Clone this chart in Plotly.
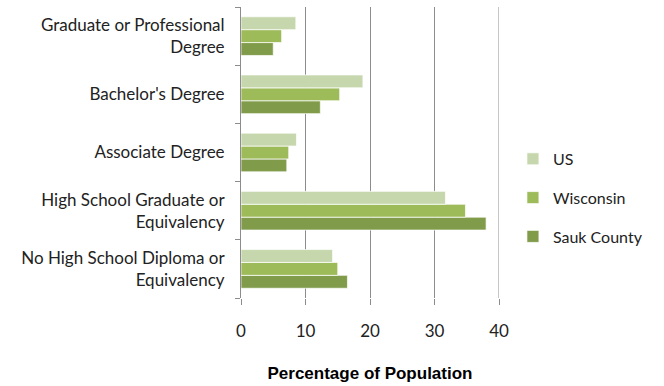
import plotly.graph_objects as go

# Educational attainment categories (bottom to top as drawn)
categories = [
    "No High School Diploma or<br>Equivalency",
    "High School Graduate or<br>Equivalency",
    "Associate Degree",
    "Bachelor's Degree",
    "Graduate or Professional<br>Degree",
]

# Percentage of population by area
us = [14.2, 31.7, 8.6, 18.9, 8.5]
wisconsin = [15.0, 34.8, 7.4, 15.3, 6.3]
sauk_county = [16.5, 38.0, 7.1, 12.3, 5.0]

x_ticks = [0, 10, 20, 30, 40]

# (name, values, colour, legend rank)
series = [
    ("Sauk County", sauk_county, "#809B4A", 3),
    ("Wisconsin", wisconsin, "#9DBB59", 2),
    ("US", us, "#C6D7AD", 1),
]

label_font = dict(family="Lato", size=17, color="#222222")
grid = "#8C8C8C"

fig = go.Figure()
for name, vals, color, rank in series:
    fig.add_trace(go.Bar(
        y=categories, x=vals, name=name, orientation="h",
        legendgroup=name, legendrank=rank,
        marker=dict(color=color, line=dict(color="rgba(255,255,255,0.7)", width=1)),
    ))

# gridline at the last tick, which sits on the plot's right edge
fig.add_shape(
    type="line", xref="x", yref="paper",
    x0=x_ticks[-1], x1=x_ticks[-1], y0=0, y1=1,
    line=dict(color=grid, width=1), layer="below",
)

fig.update_layout(
    width=664, height=386,
    margin=dict(l=241, r=165, t=7, b=88),
    paper_bgcolor="white", plot_bgcolor="white",
    barmode="group", bargap=0.335, bargroupgap=0,
    font=label_font,
    showlegend=True,
    legend=dict(
        x=1.054, xanchor="left", y=0.344, yanchor="middle",
        traceorder="grouped", tracegroupgap=15,
        font=dict(family="Lato", size=16, color="#222222"),
        bgcolor="rgba(0,0,0,0)",
    ),
    xaxis=dict(
        range=[0, 40], tickvals=x_ticks, ticktext=[str(v) for v in x_ticks],
        showgrid=True, gridcolor=grid, gridwidth=1,
        zeroline=False, showline=False,
        ticks="outside", ticklen=6, tickcolor=grid,
        ticklabelstandoff=12,
        tickfont=dict(family="Lato", size=17, color="#222222"),
        title=dict(
            text="<b>Percentage of Population</b>",
            font=dict(family="Liberation Sans", size=17, color="#000000"),
            standoff=26,
        ),
    ),
    yaxis=dict(
        type="category", categoryorder="array", categoryarray=categories,
        range=[-0.5, 4.5],
        showline=True, linecolor=grid, linewidth=1,
        ticks="outside", ticklen=5, tickcolor=grid, tickson="boundaries",
        ticklabelstandoff=12,
        showgrid=False,
        tickfont=label_font,
    ),
)

fig.write_html("out.html")
